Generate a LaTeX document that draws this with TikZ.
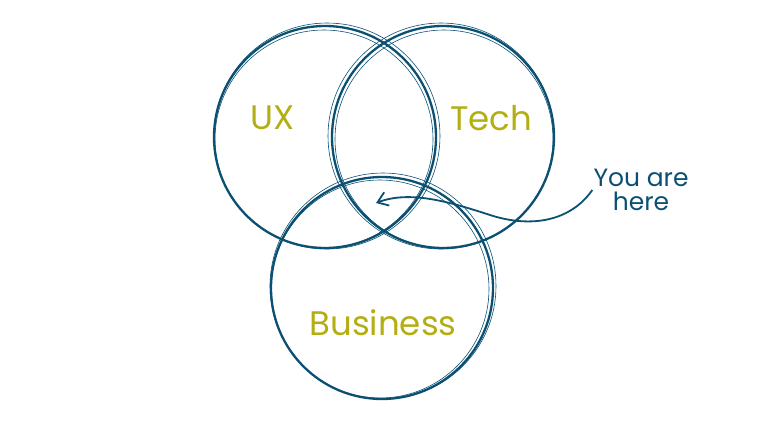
\documentclass[tikz,border=0pt]{standalone}
\usepackage{fontspec}
\setmainfont{Poppins}
\usepackage{xcolor}
\usepackage{tikz}
\usetikzlibrary{arrows.meta,positioning}

\definecolor{deepblue}{HTML}{0B5072}
\definecolor{mustard}{HTML}{B3AE12}

\begin{document}
\begin{tikzpicture}[
  x=1pt, y=-1pt,
  ring/.style={draw=deepblue, circle, line width=2.3pt, minimum size=222pt, inner sep=0pt},
  sketch/.style={draw=deepblue, line width=0.6pt},
  field/.style={text=mustard, font=\fontsize{34}{38}\selectfont},
  note/.style={text=deepblue, align=center, inner sep=1pt, font=\fontsize{25}{24}\selectfont},
  arr/.style={-{Straight Barb[length=3.5mm,width=5mm]}, draw=deepblue, line width=1.8pt}
]
\useasboundingbox (0,0) rectangle (768,432);

% the three circles
\node[ring] (ux) at (325,137) {};
\node[ring] (tech) at (443,137) {};
\node[ring] (biz) at (382,288) {};

% extra pencil strokes
\draw[sketch] ([shift={(2,-1)}]ux.center) circle (113);
\draw[sketch] ([shift={(-1,2)}]ux.center) circle (109);
\draw[sketch] ([shift={(-2,-1)}]tech.center) circle (113);
\draw[sketch] ([shift={(1,2)}]tech.center) circle (109);
\draw[sketch] ([shift={(1,-2)}]biz.center) circle (113);
\draw[sketch] ([shift={(-2,1)}]biz.center) circle (109);

% labels
\node[field] (uxl) at (273,118) {UX};
\node[field] (techl) at (491,118) {Tech};
\node[field] (bizl) at (383,323) {Business};

\node[note] (here) at (641,190) {You are\\here};
\coordinate (spot) at (376,203);

\draw[arr] (here.west) .. controls (570,222) and (530,228) .. (490,215)
  .. controls (450,202) and (410,190) .. (spot);

\end{tikzpicture}
\end{document}
